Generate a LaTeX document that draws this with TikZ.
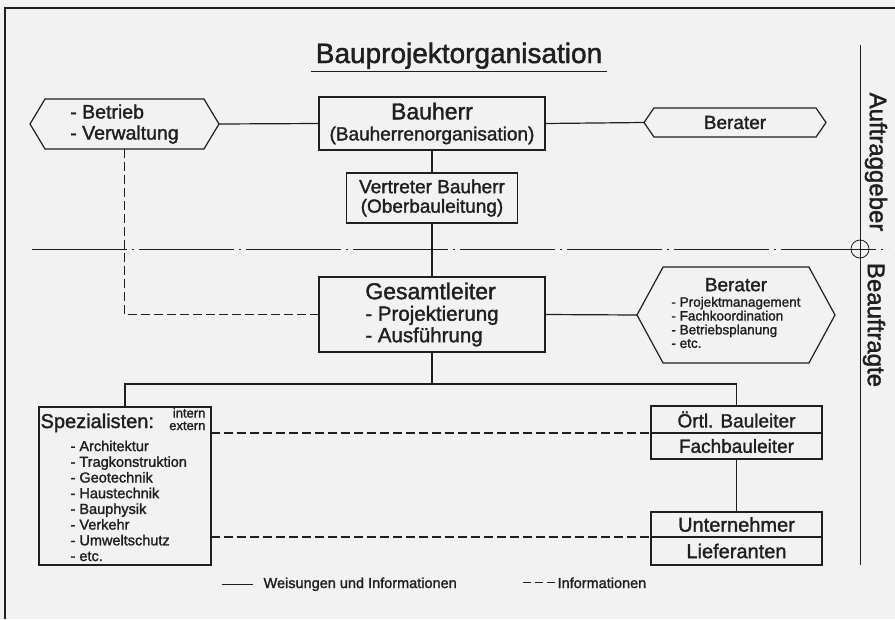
\documentclass[tikz,border=0pt]{standalone}
\usepackage{fontspec}
\setmainfont{Liberation Sans}[UprightFeatures={FakeBold=1.5}]
\usetikzlibrary{positioning}
\usetikzlibrary{shapes.symbols}

\newcommand{\fsize}[2]{\fontsize{#1}{#2}\selectfont}

\begin{document}
\begin{tikzpicture}[x=1pt,y=-1pt,line width=1.2pt,color=black!88,
    box/.style={draw,inner sep=0pt,outer sep=0pt,align=center},
    hexa/.style={draw,shape=signal,signal to=east and west,inner sep=0pt,outer sep=0pt},
    infoline/.style={dash pattern=on 9pt off 4pt},
    axisline/.style={line width=0.8pt,dash pattern=on 95pt off 5pt on 2pt off 5pt}]
  \fill[black!5] (0,0) rectangle (895,619);
  \useasboundingbox (0,0) rectangle (895,619);
  \draw (5,619) -- (5,8) -- (895,8);

  \node (title) [font=\fsize{28}{30},inner xsep=4pt,inner ysep=2pt,anchor=base] at (459,63) {Bauprojektorganisation};
  \draw[line width=1.8pt] (title.south west) -- (title.south east);

  \node (bauherr) [box,minimum width=226pt,minimum height=53pt,font=\fsize{19}{21}] at (432,123.5)
        {{\fsize{23}{23}Bauherr}\\(Bauherrenorganisation)};
  \node (vertreter) [box,below=23pt of bauherr,minimum width=171pt,minimum height=50pt,font=\fsize{19}{19.5}]
        {Vertreter Bauherr\\(Oberbauleitung)};
  \node (gesamt) [box,below=54pt of vertreter,minimum width=226pt,minimum height=75pt,align=left,font=\fsize{20.5}{21.5}]
        {{\fsize{23}{23}Gesamtleiter}\\- Projektierung\\- Ausführung};

  \node (betrieb) [hexa,signal pointer angle=118,minimum width=189pt,minimum height=50pt,align=left,font=\fsize{19.5}{21}]
        at (124.5,124) {- Betrieb\\- Verwaltung};
  \node (berater) [hexa,signal pointer angle=111,minimum width=182pt,minimum height=29pt,font=\fsize{19}{19}]
        at (735,122.5) {Berater};
  \node (beraterb) [hexa,signal pointer angle=123,minimum width=198pt,minimum height=96pt,align=center,font=\fsize{13.5}{13.5}]
        at (736,315) {{\fsize{19}{19}Berater}\\[2pt]
        \begin{tabular}[t]{@{}l@{}}- Projektmanagement\\- Fachkoordination\\- Betriebsplanung\\- etc.\end{tabular}};

  % Spezialisten
  \node (spez) [box,minimum width=172pt,minimum height=158pt] at (125,486) {};
  \node (spezkopf) [anchor=base west,inner sep=0pt,font=\fsize{20}{20}] at (40,428) {Spezialisten:};
  \node (spezart) [anchor=north east,inner sep=0pt,align=right,font=\fsize{13}{12.5}] at (206,407.5) {intern\\extern};
  \node (spezliste) [anchor=north west,inner sep=0pt,align=left,font=\fsize{14.5}{15.7}] at (70,440)
        {- Architektur\\- Tragkonstruktion\\- Geotechnik\\- Haustechnik\\- Bauphysik\\- Verkehr\\- Umweltschutz\\- etc.};

  \node (oertl) [box,minimum width=171pt,minimum height=27pt,font=\fsize{19}{19}] at (736.5,419.5) {Örtl. Bauleiter};
  \node (fachbl) [box,below=0pt of oertl,minimum width=171pt,minimum height=26pt,font=\fsize{19}{19}] {Fachbauleiter};
  \node (untern) [box,below=53pt of fachbl,minimum width=171pt,minimum height=25pt,font=\fsize{20}{20}] {Unternehmer};
  \node (liefer) [box,below=0pt of untern,minimum width=171pt,minimum height=28pt,font=\fsize{20}{20}] {Lieferanten};

  \coordinate (verteiler) at (432,384);

  \path
  (betrieb.east) edge (bauherr.west)
  (bauherr.east) edge (berater.west)
  (bauherr) edge (vertreter)
  (vertreter) edge (gesamt)
  (gesamt.east) edge (beraterb.west)
  (gesamt.south) edge (verteiler)
  (fachbl) edge (untern);
  \draw (spez.north) |- (verteiler) -| (oertl.north);

  \draw[infoline] (betrieb.south) |- (gesamt.west);
  \draw[infoline] (spez.east |- oertl.south west) -- (oertl.south west);
  \draw[infoline] (spez.east |- untern.south west) -- (untern.south west);

  % Auftraggeber / Beauftragte
  \draw[axisline] (32,249) -- (888,249);
  \draw[line width=0.8pt] (860,45) -- (860,565);
  \draw[line width=0.8pt] (860,249) circle[radius=9pt];
  \node (auftrag) [rotate=-90,font=\fsize{24}{24}] at (876,162) {Auftraggeber};
  \node (beauftr) [rotate=-90,font=\fsize{24}{24}] at (874,325) {Beauftragte};

  % Legende
  \node (legweis) [anchor=base west,inner sep=0pt,font=\fsize{14.5}{14.5}] at (263,588) {Weisungen und Informationen};
  \draw (legweis.west) ++(-10,0) -- ++(-31,0);
  \node (leginfo) [anchor=base west,inner sep=0pt,font=\fsize{14.5}{14.5}] at (557,588) {Informationen};
  \draw[dash pattern=on 8pt off 4pt] (leginfo.west) ++(-2,0) -- ++(-32,0);
\end{tikzpicture}
\end{document}
